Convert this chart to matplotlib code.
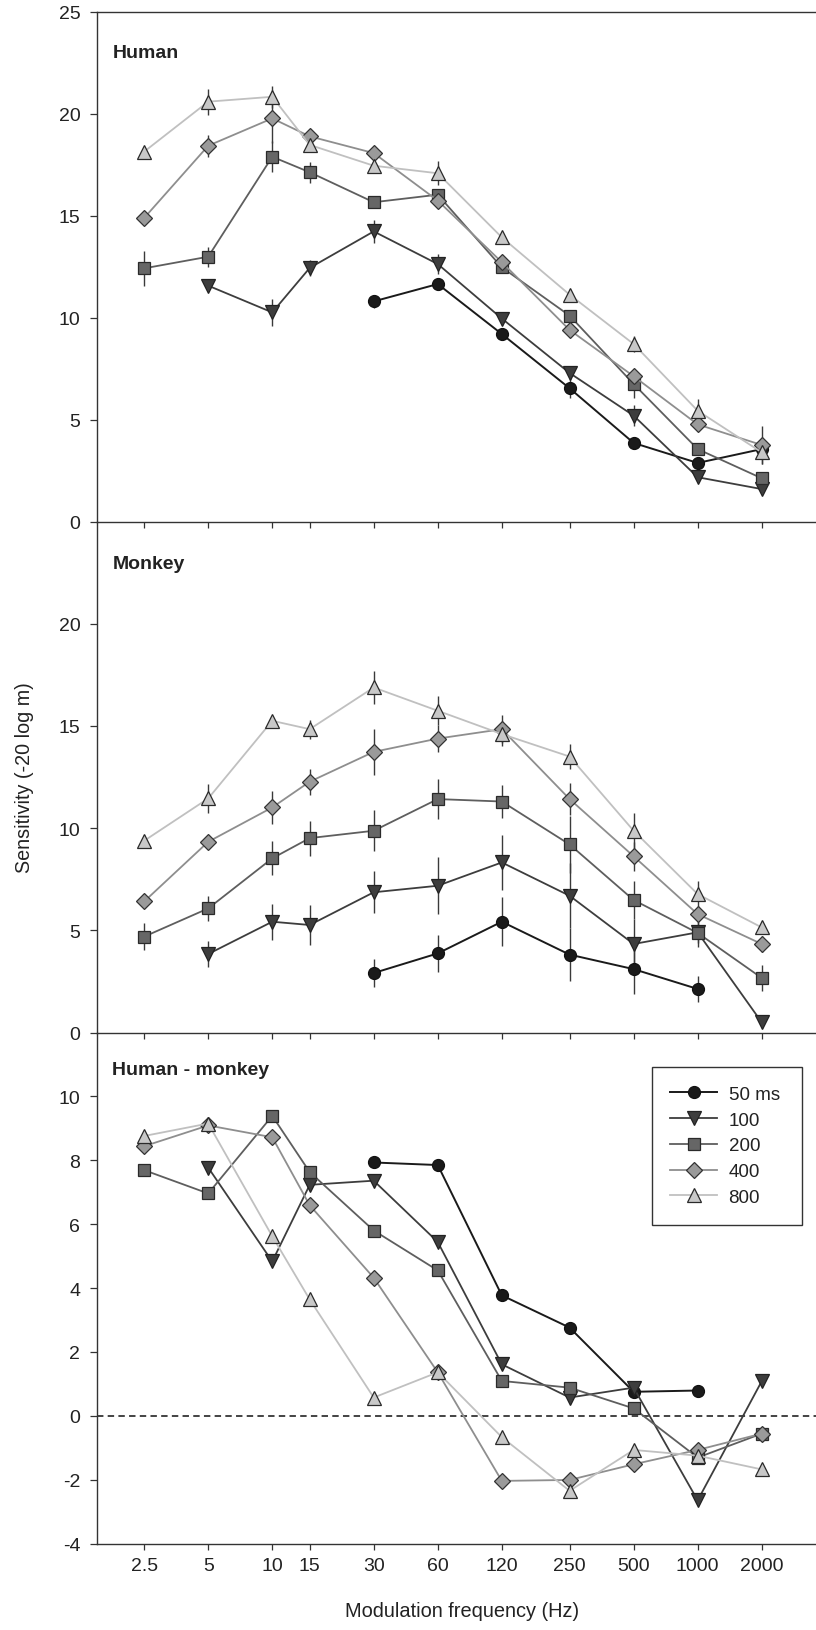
import numpy as np
import matplotlib
matplotlib.use("Agg")
import matplotlib.pyplot as plt

plt.rcParams['font.family'] = ['Liberation Sans', 'DejaVu Sans']
plt.rcParams['axes.unicode_minus'] = False

nan = np.nan
freqs = [2.5, 5, 10, 15, 30, 60, 120, 250, 500, 1000, 2000]
freq_labels = ['2.5', '5', '10', '15', '30', '60', '120', '250', '500', '1000', '2000']
durations = ['50 ms', '100', '200', '400', '800']

# Human sensitivity
human_50 = [nan, nan, nan, nan, 10.79, 11.64, 9.19, 6.53, 3.85, 2.87, 3.55]
human_100 = [nan, 11.56, 10.25, 12.43, 14.22, 12.62, 9.95, 7.28, 5.19, 2.17, 1.59]
human_200 = [12.41, 12.98, 17.88, 17.12, 15.65, 16.02, 12.46, 10.09, 6.74, 3.55, 2.12]
human_400 = [14.88, 18.42, 19.76, 18.88, 18.06, 15.73, 12.71, 9.39, 7.12, 4.76, 3.75]
human_800 = [18.13, 20.58, 20.82, 18.46, 17.44, 17.07, 13.93, 11.12, 8.70, 5.43, 3.39]

human_50_err = [nan, nan, nan, nan, 0.3, 0.2, 0.2, 0.5, 0.2, 0.2, 0.2]
human_100_err = [nan, 0.2, 0.65, 0.4, 0.56, 0.5, 0.3, 0.3, 0.5, 0.2, 0.2]
human_200_err = [0.85, 0.5, 0.77, 0.52, 0.2, 0.3, 0.3, 0.3, 0.7, 0.3, 0.3]
human_400_err = [0.2, 0.54, 1.2, 0.3, 0.3, 0.3, 0.3, 0.3, 0.3, 0.3, 0.92]
human_800_err = [0.2, 0.64, 0.54, 0.3, 0.33, 0.59, 0.2, 0.3, 0.4, 0.57, 0.57]

# Monkey sensitivity
monkey_50 = [nan, nan, nan, nan, 2.91, 3.87, 5.42, 3.81, 3.10, 2.13, nan]
monkey_100 = [nan, 3.84, 5.42, 5.26, 6.86, 7.18, 8.32, 6.69, 4.33, 4.90, 0.50]
monkey_200 = [4.69, 6.07, 8.52, 9.51, 9.87, 11.42, 11.30, 9.20, 6.48, 4.87, 2.67]
monkey_400 = [6.41, 9.33, 11.01, 12.27, 13.73, 14.38, 14.84, 11.42, 8.62, 5.79, 4.33]
monkey_800 = [9.38, 11.45, 15.25, 14.84, 16.88, 15.74, 14.60, 13.50, 9.87, 6.77, 5.14]

monkey_50_err = [nan, nan, nan, nan, 0.69, 0.9, 1.2, 1.3, 1.2, 0.65, nan]
monkey_100_err = [nan, 0.65, 0.88, 1.0, 1.03, 1.39, 1.33, 1.6, 1.2, 0.5, 0.3]
monkey_200_err = [0.66, 0.6, 0.83, 0.86, 1.01, 0.96, 0.83, 1.4, 0.95, 0.7, 0.65]
monkey_400_err = [0.2, 0.2, 0.82, 0.64, 1.12, 0.65, 0.7, 0.8, 0.7, 0.3, 0.4]
monkey_800_err = [0.3, 0.73, 0.2, 0.47, 0.82, 0.7, 0.6, 0.6, 0.86, 0.65, 0.3]

# Human - monkey difference
diff_50 = [nan, nan, nan, nan, 7.93, 7.85, 3.77, 2.76, 0.75, 0.79, nan]
diff_100 = [nan, 7.77, 4.83, 7.23, 7.36, 5.44, 1.61, 0.57, 0.88, -2.65, 1.08]
diff_200 = [7.69, 6.96, 9.39, 7.63, 5.80, 4.55, 1.09, 0.88, 0.23, -1.31, -0.56]
diff_400 = [8.44, 9.09, 8.72, 6.59, 4.32, 1.36, -2.04, -2.01, -1.52, -1.07, -0.56]
diff_800 = [8.76, 9.15, 5.62, 3.64, 0.57, 1.36, -0.67, -2.35, -1.07, -1.25, -1.68]

human = [human_50, human_100, human_200, human_400, human_800]
human_err = [human_50_err, human_100_err, human_200_err, human_400_err, human_800_err]
monkey = [monkey_50, monkey_100, monkey_200, monkey_400, monkey_800]
monkey_err = [monkey_50_err, monkey_100_err, monkey_200_err, monkey_400_err, monkey_800_err]
diff = [diff_50, diff_100, diff_200, diff_400, diff_800]

styles = [
    dict(marker='o', ms=8.6, mfc='#1a1a1a', mec='#111111', color='#1a1a1a', lw=1.4),
    dict(marker='v', ms=9.5, mfc='#3d3d3d', mec='#222222', color='#3d3d3d', lw=1.3),
    dict(marker='s', ms=8.0, mfc='#666666', mec='#2a2a2a', color='#5e5e5e', lw=1.3),
    dict(marker='D', ms=8.0, mfc='#9a9a9a', mec='#333333', color='#8e8e8e', lw=1.3),
    dict(marker='^', ms=9.5, mfc='#c8c8c8', mec='#2a2a2a', color='#c0c0c0', lw=1.3),
]

fig = plt.figure(figsize=(8.16, 16.31), dpi=100)
H = 1631.0
W = 816.0
left = 97 / W
width = 1 - left

def make_ax(top_px, bot_px):
    return fig.add_axes([left, 1 - bot_px / H, width, (bot_px - top_px) / H])

ax1 = make_ax(12.5, 522.5)
ax2 = make_ax(522.5, 1033.5)
ax3 = make_ax(1033.5, 1544.5)

spine_c = '#333333'
for ax in (ax1, ax2, ax3):
    ax.set_xscale('log')
    ax.set_xlim(1.5, 3600)
    ax.set_xticks(freqs)
    ax.set_xticks([], minor=True)
    ax.spines['right'].set_visible(False)
    for s in ('left', 'bottom', 'top'):
        ax.spines[s].set_color(spine_c)
        ax.spines[s].set_linewidth(1.0)
    ax.tick_params(axis='y', direction='out', length=5, width=0.9, color=spine_c,
                   labelsize=14, pad=7, labelcolor='#222222')
    ax.tick_params(axis='x', direction='out', length=4, width=0.9, color=spine_c,
                   labelsize=14, pad=6, labelcolor='#222222')
    ax.set_facecolor('none')

ax2.spines['top'].set_visible(False)
ax3.spines['top'].set_visible(False)

ax1.set_ylim(0, 25)
ax1.set_yticks([0, 5, 10, 15, 20, 25])
ax2.set_ylim(0, 25)
ax2.set_yticks([0, 5, 10, 15, 20])
ax3.set_ylim(-4, 12)
ax3.set_yticks([-4, -2, 0, 2, 4, 6, 8, 10])

ax1.set_xticklabels([])
ax2.set_xticklabels([])
ax3.set_xticklabels(freq_labels)

err_c = '#3a3a3a'
for vals, errs, st in zip(human, human_err, styles):
    ax1.errorbar(freqs, vals, yerr=errs, ecolor=err_c, elinewidth=1.0, capsize=0,
                 mew=0.9, **st)
for vals, errs, st in zip(monkey, monkey_err, styles):
    ax2.errorbar(freqs, vals, yerr=errs, ecolor=err_c, elinewidth=1.0, capsize=0,
                 mew=0.9, **st)

ax3.axhline(0, color='#111111', lw=1.1, dashes=(4.2, 2.8), zorder=1)
handles = []
for vals, st, lab in zip(diff, styles, durations):
    h, = ax3.plot(freqs, vals, mew=0.9, label=lab, **st)
    handles.append(h)

for ax, t, y in ((ax1, 'Human', 0.92), (ax2, 'Monkey', 0.917), (ax3, 'Human - monkey', 0.927)):
    ax.text(0.0214, y, t, transform=ax.transAxes, fontsize=14, fontweight='bold',
            ha='left', va='center', color='#222222')

leg = ax3.legend(handles, durations, loc='upper left',
                 bbox_to_anchor=(0.7715, 0.5, 0.2086, 0.4325), mode='expand',
                 frameon=True, fancybox=False, edgecolor='#333333', framealpha=1,
                 fontsize=13.5, handlelength=2.5, handletextpad=0.6, labelspacing=0.46,
                 borderpad=1.0, borderaxespad=0)
leg.get_frame().set_linewidth(1.0)
for t in leg.get_texts():
    t.set_color('#222222')

fig.text(25 / W, 1 - 778 / H, 'Sensitivity (-20 log m)', rotation=90, fontsize=14.2,
         ha='center', va='center', color='#222222')
fig.text(462 / W, 1 - 1612 / H, 'Modulation frequency (Hz)', fontsize=14.4,
         ha='center', va='center', color='#222222')

fig.savefig('out.png', dpi=100)
